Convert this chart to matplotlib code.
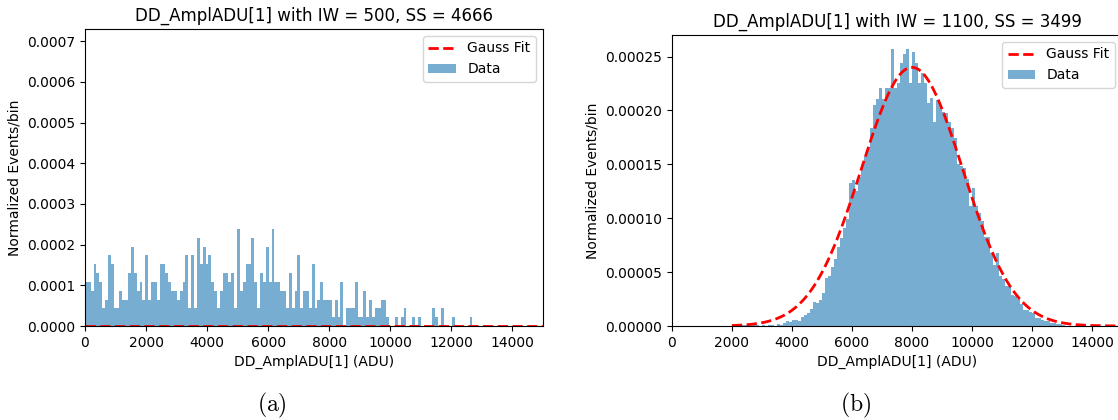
import numpy as np
import matplotlib
matplotlib.use("Agg")
import matplotlib.pyplot as plt

# (a) IW = 500: counts per bin, bins of ~94 ADU from 0
counts_a = [5, 5, 4, 7, 6, 5, 2, 3, 8, 7, 2, 2, 4, 3, 3, 6, 9, 6, 4, 5,
            3, 8, 3, 5, 5, 3, 7, 7, 6, 5, 4, 4, 3, 4, 5, 8, 2, 8, 2, 10,
            7, 9, 7, 8, 5, 4, 2, 4, 6, 6, 5, 6, 2, 11, 4, 5, 7, 7, 10, 5,
            2, 6, 5, 9, 5, 11, 5, 5, 4, 4, 2, 6, 2, 4, 8, 2, 4, 4, 2, 7,
            2, 3, 5, 3, 3, 3, 1, 3, 1, 5, 0, 2, 2, 2, 5, 1, 1, 4, 1, 3,
            1, 2, 2, 3, 3, 1, 0, 0, 1, 0, 1, 2, 0, 0, 1, 0, 1, 0, 0, 0,
            0, 2, 1, 0, 2, 0, 0, 0, 1, 0, 0, 0, 0, 0, 1]
bw_a = 94
# failed fit -> flat near zero
fit_a = (1e-7, 5000, 1e5)

# (b) IW = 1100: normalized height per 100 ADU bin, starting at 2000 ADU (x1e-5)
start_b = 2000
bw_b = 100
vals_b = [0, 0, 0, 0.1, 0.1, 0.2, 0.05, 0.1, 0.05, 0,
          0.1, 0, 0.05, 0.1, 0, 0.2, 0.1, 0.3, 0.5, 0.4,
          0.6, 0.6, 0.5, 0.8, 1.0, 1.2, 1.6, 2.2, 2.1, 2.4,
          3.1, 4.5, 4.6, 5.5, 6.2, 7.3, 8.2, 9.1, 9.9, 13.3,
          13.5, 12.5, 13.8, 14.8, 15.8, 16.6, 18.4, 20.5, 21.1, 22.1,
          21.1, 22.1, 22.1, 25.7, 22.1, 22.5, 24.4, 25.2, 25.7, 22.5,
          25.4, 24.4, 22.5, 23.5, 22.5, 20.7, 21.2, 18.9, 21.0, 20.4,
          19.9, 19.8, 18.9, 18.4, 17.4, 15.0, 14.8, 14.7, 13.6, 11.1,
          12.8, 11.1, 10.5, 9.7, 8.3, 8.3, 6.8, 5.7, 6.8, 4.6,
          4.4, 3.7, 3.7, 2.9, 2.8, 2.5, 2.0, 1.5, 1.5, 1.3,
          1.2, 0.7, 0.7, 0.6, 0.5, 0.45, 0.3, 0.3, 0.2, 0.15, 0.1]
fit_b = (0.00024, 8000, 1690)

titles = ["DD_AmplADU[1] with IW = 500, SS = 4666",
          "DD_AmplADU[1] with IW = 1100, SS = 3499"]


def gauss(x, a, mu, sig):
    return a * np.exp(-0.5 * ((x - mu) / sig) ** 2)


plt.rcParams['mathtext.fontset'] = 'cm'
fig = plt.figure(figsize=(11.18, 4.2), dpi=100)
ax1 = fig.add_axes([0.076, 0.2238, 0.4097, 0.7072])
ax2 = fig.add_axes([0.601, 0.2238, 0.4026, 0.6929])

# left panel
edges_a = np.arange(len(counts_a) + 1) * bw_a
ax1.hist(edges_a[:-1], bins=edges_a, weights=counts_a, density=True,
         color='#1f77b4', alpha=0.6, label='Data')
xf = np.linspace(0, 15000, 400)
ax1.plot(xf, gauss(xf, *fit_a), 'r--', lw=2, label='Gauss Fit')
ax1.set_xlim(0, 15000)
ax1.set_ylim(0, 0.00073)

# right panel
edges_b = start_b + np.arange(len(vals_b) + 1) * bw_b
ax2.hist(edges_b[:-1], bins=edges_b, weights=np.array(vals_b) * 1e-5,
         color='#1f77b4', alpha=0.6, label='Data')
xf = np.linspace(2000, 15500, 400)
ax2.plot(xf, gauss(xf, *fit_b), 'r--', lw=2, label='Gauss Fit')
ax2.set_xlim(0, 15000)
ax2.set_ylim(0, 0.00027)

for ax, t in zip([ax1, ax2], titles):
    ax.set_title(t, fontsize=12)
    ax.set_xlabel("DD_AmplADU[1] (ADU)", fontsize=10)
    ax.set_ylabel("Normalized Events/bin", fontsize=10)
    ax.set_xticks(np.arange(0, 15000, 2000))
    ax.tick_params(labelsize=10)
    h, l = ax.get_legend_handles_labels()
    # fit line first, like the original
    ax.legend(h[::-1], l[::-1], loc='upper right', fontsize=10)

fig.text(0.243, 0.02, r'$\mathrm{(a)}$', fontsize=17, ha='center')
fig.text(0.765, 0.02, r'$\mathrm{(b)}$', fontsize=17, ha='center')

fig.savefig("out.png", dpi=100)
